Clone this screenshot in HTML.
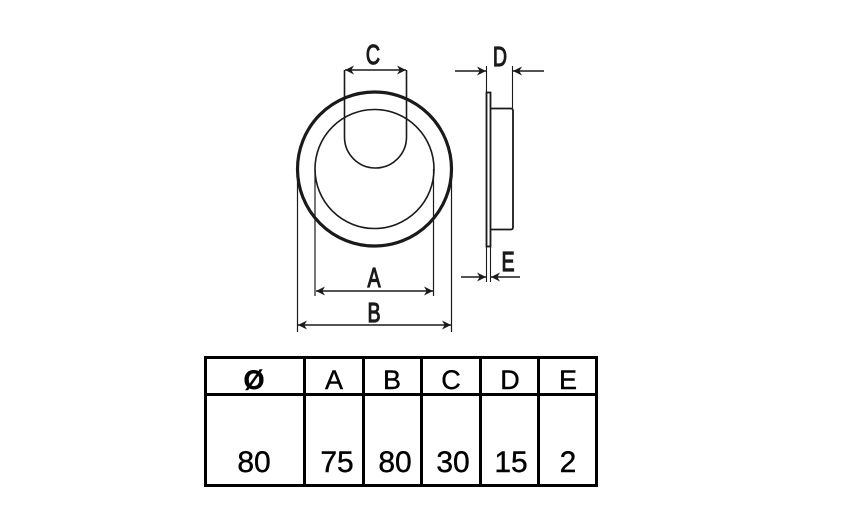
<!DOCTYPE html>
<html><head><meta charset="utf-8"><style>html,body{margin:0;padding:0;background:#fff}svg{display:block}</style></head>
<body>
<svg width="868" height="524" viewBox="0 0 868 524" xmlns="http://www.w3.org/2000/svg">
<defs>
<marker id="ar" viewBox="0 0 10 10" refX="10" refY="5" markerWidth="15" markerHeight="9" markerUnits="userSpaceOnUse" orient="auto">
<path d="M0,0 L10,5 L0,10 L3,5 Z" fill="#1a1a1a"/></marker>
</defs>
<g fill="none" stroke="#1a1a1a">
<circle cx="374.5" cy="169" r="77" stroke-width="3.2"/>
<circle cx="374.5" cy="169" r="59.5" stroke-width="1.6"/>
<path d="M344.5,70 V137 A31,31 0 0 0 406.5,137 V70" stroke-width="1.6"/>
<line x1="375" y1="70" x2="345" y2="70" stroke-width="1.4" marker-end="url(#ar)"/>
<line x1="375" y1="70" x2="406" y2="70" stroke-width="1.4" marker-end="url(#ar)"/>
<line x1="315" y1="169" x2="315" y2="296" stroke-width="1.2"/>
<line x1="433.5" y1="169" x2="433.5" y2="296" stroke-width="1.2"/>
<line x1="374" y1="291" x2="316" y2="291" stroke-width="1.4" marker-end="url(#ar)"/>
<line x1="374" y1="291" x2="433" y2="291" stroke-width="1.4" marker-end="url(#ar)"/>
<line x1="297.5" y1="169" x2="297.5" y2="332" stroke-width="1.2"/>
<line x1="451.5" y1="169" x2="451.5" y2="332" stroke-width="1.2"/>
<line x1="374" y1="325" x2="298" y2="325" stroke-width="1.4" marker-end="url(#ar)"/>
<line x1="374" y1="325" x2="451" y2="325" stroke-width="1.4" marker-end="url(#ar)"/>
<rect x="486.5" y="92.5" width="4" height="154" stroke-width="1.8"/>
<path d="M490.5,108.5 H511 Q513,108.5 513,111 V227 Q513,229.5 511,229.5 H490.5" stroke-width="1.8"/>
<line x1="486.5" y1="66" x2="486.5" y2="92" stroke-width="1.1"/>
<line x1="512.5" y1="66" x2="512.5" y2="108" stroke-width="1.1"/>
<line x1="455" y1="71" x2="486" y2="71" stroke-width="1.4" marker-end="url(#ar)"/>
<line x1="544" y1="71" x2="513" y2="71" stroke-width="1.4" marker-end="url(#ar)"/>
<line x1="486.5" y1="247" x2="486.5" y2="282" stroke-width="1.1"/>
<line x1="490.5" y1="247" x2="490.5" y2="282" stroke-width="1.1"/>
<line x1="461" y1="277" x2="486" y2="277" stroke-width="1.4" marker-end="url(#ar)"/>
<line x1="520" y1="277" x2="491" y2="277" stroke-width="1.4" marker-end="url(#ar)"/>
</g>
<g font-family="Liberation Sans, sans-serif" font-size="28" fill="#1a1a1a" stroke="#1a1a1a" stroke-width="1.2" text-anchor="middle">
<text x="0" y="0" transform="translate(373,64) scale(0.7,1)">C</text>
<text x="0" y="0" transform="translate(500,66) scale(0.7,1)">D</text>
<text x="0" y="0" transform="translate(374,287) scale(0.7,1)">A</text>
<text x="0" y="0" transform="translate(374,322) scale(0.7,1)">B</text>
<text x="0" y="0" transform="translate(508,271) scale(0.7,1)">E</text>
</g>
<g fill="none" stroke="#000" stroke-width="3">
<rect x="205.5" y="357.5" width="391" height="128"/>
<line x1="205" y1="394.5" x2="597" y2="394.5"/>
<line x1="304.5" y1="357" x2="304.5" y2="486"/>
<line x1="363.5" y1="357" x2="363.5" y2="486"/>
<line x1="421.5" y1="357" x2="421.5" y2="486"/>
<line x1="480.5" y1="357" x2="480.5" y2="486"/>
<line x1="538.5" y1="357" x2="538.5" y2="486"/>
</g>
<g font-family="Liberation Sans, sans-serif" font-size="27" fill="#000" stroke="#000" stroke-width="0.4" text-anchor="middle">
<text x="254" y="389" font-weight="bold">Ø</text>
<text x="334" y="389">A</text>
<text x="392" y="389">B</text>
<text x="451" y="389">C</text>
<text x="510" y="389">D</text>
<text x="568" y="389">E</text>
</g>
<g font-family="Liberation Sans, sans-serif" font-size="30" fill="#000" stroke="#000" stroke-width="0.4" text-anchor="middle">
<text x="254" y="472">80</text>
<text x="337" y="472">75</text>
<text x="395" y="472">80</text>
<text x="453" y="472">30</text>
<text x="511" y="472">15</text>
<text x="568" y="472">2</text>
</g>
</svg>
</body></html>
